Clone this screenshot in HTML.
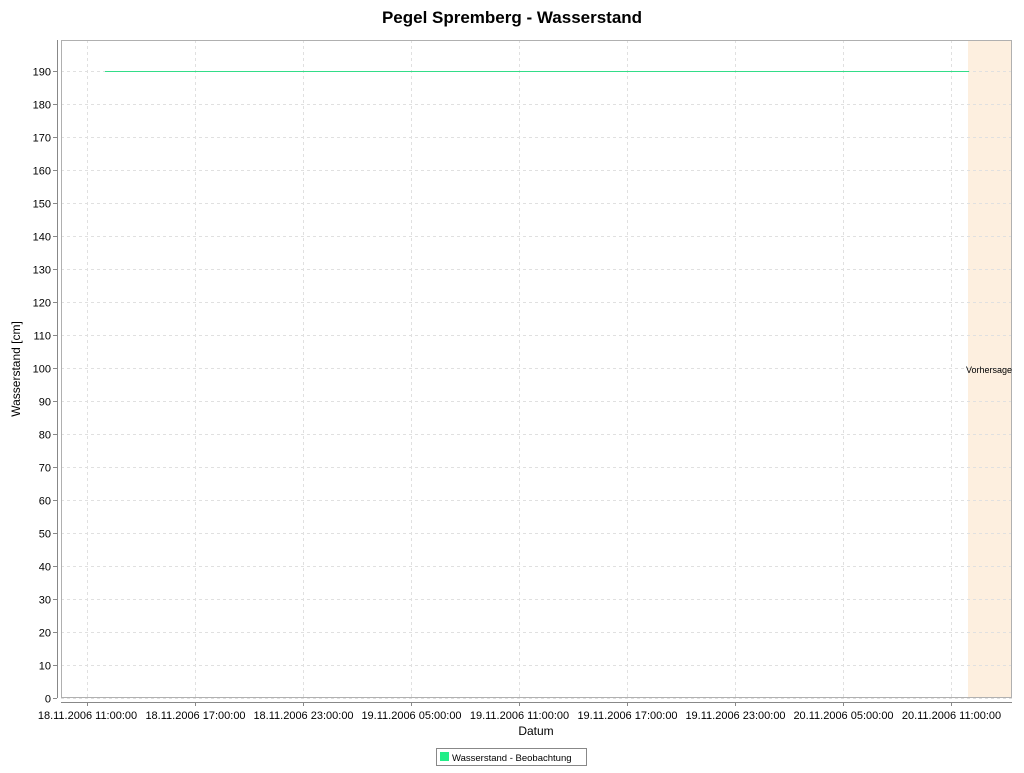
<!DOCTYPE html>
<html><head><meta charset="utf-8"><style>
body{margin:0;background:#fff;width:1024px;height:768px;overflow:hidden}
svg{font-family:"Liberation Sans",sans-serif}
</style></head><body>
<svg id="c" width="1024" height="768">
<text x="512" y="23" text-anchor="middle" font-size="17" font-weight="bold">Pegel Spremberg - Wasserstand</text>
<rect x="968" y="40" width="44" height="658" fill="#fdefdf"/>
<g id="grid"></g>
<rect x="61.5" y="40.5" width="950" height="657" fill="none" stroke="#b0b0b0"/>
<line x1="57.5" y1="40" x2="57.5" y2="698" stroke="#888"/>
<line x1="61" y1="702.5" x2="1012" y2="702.5" stroke="#888"/>
<g id="yt" font-size="11"></g>
<g id="xt" font-size="11"></g>
<g id="series"></g>
<text x="966" y="373" font-size="9">Vorhersage</text>
<text x="20" y="369" font-size="12" text-anchor="middle" transform="rotate(-90 20 369)">Wasserstand [cm]</text>
<text x="536" y="735" font-size="12" text-anchor="middle">Datum</text>
<g>
<rect x="436.5" y="748.5" width="150" height="17" fill="#fff" stroke="#888"/>
<rect x="440" y="752" width="9" height="9" fill="#22ee88"/>
<text x="452" y="761" font-size="9.5">Wasserstand - Beobachtung</text>
</g>
</svg>
<script>
const yTicks=[0,10,20,30,40,50,60,70,80,90,100,110,120,130,140,150,160,170,180,190];
const xTickHours=[0,6,12,18,24,30,36,42,48];
const xTickLabels=["18.11.2006 11:00:00","18.11.2006 17:00:00","18.11.2006 23:00:00","19.11.2006 05:00:00","19.11.2006 11:00:00","19.11.2006 17:00:00","19.11.2006 23:00:00","20.11.2006 05:00:00","20.11.2006 11:00:00"];
const obsHours=[1,49];
const obsValues=[190,190];
const NS="http://www.w3.org/2000/svg";
const ys=v=>698-v*3.3;
const xs=h=>87+h*18;
function mk(t,a,p){const e=document.createElementNS(NS,t);for(const k in a)e.setAttribute(k,a[k]);p.appendChild(e);return e;}
const grid=document.getElementById('grid'),yt=document.getElementById('yt'),xt=document.getElementById('xt'),se=document.getElementById('series');
yTicks.forEach(v=>{
 const y=Math.round(ys(v))+0.5;
 const g=mk('line',{x1:61,x2:1012,y1:y,y2:y,stroke:'#e0e0e0','stroke-dasharray':'3,3'},grid);
 
 
 const tk=mk('line',{x1:53,x2:57,y1:y,y2:y,stroke:'#888'},yt);
 
 
 const t=mk('text',{x:51,y:y+4,'text-anchor':'end'},yt);t.textContent=v;
 
 
});
xTickHours.forEach((h,i)=>{
 const x=Math.round(xs(h))+0.5;
 const g=mk('line',{x1:x,x2:x,y1:40,y2:698,stroke:'#e0e0e0','stroke-dasharray':'3,3'},grid);
 
 
 const tk=mk('line',{x1:x,x2:x,y1:702,y2:706,stroke:'#888'},xt);
 
 
 const t=mk('text',{x:x,y:719,'text-anchor':'middle'},xt);t.textContent=xTickLabels[i];
 
 
});
const pl=mk('polyline',{points:obsHours.map((h,i)=>xs(h)+','+(Math.round(ys(obsValues[i]))+0.5)).join(' '),fill:'none',stroke:'#33dd88','stroke-width':1},se);


</script>
</body></html>
